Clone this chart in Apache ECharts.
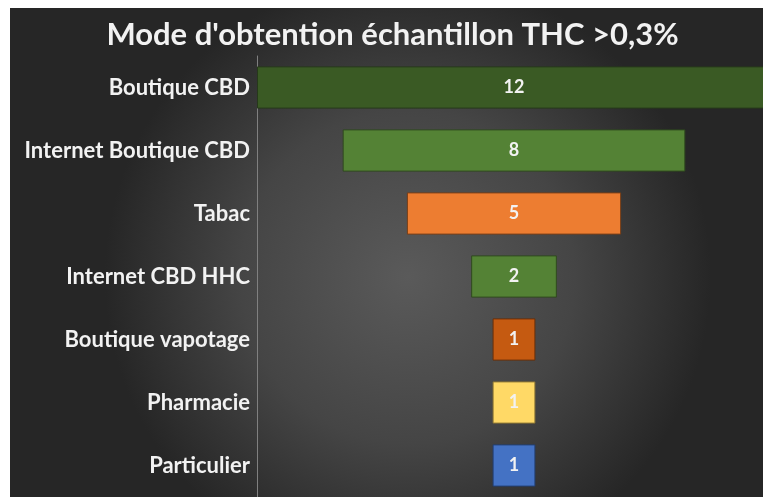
<!DOCTYPE html>
<html>
<head>
<meta charset="utf-8">
<script src="https://cdn.jsdelivr.net/npm/echarts@6/dist/echarts.min.js"></script>
<style>
  html, body { margin: 0; padding: 0; background: #ffffff; overflow: hidden; }
  #chart { position: absolute; left: 10px; top: 8px; width: 765px; height: 489px; }
</style>
</head>
<body>
<div id="chart"></div>
<script>
// data
var categories = ['Boutique CBD', 'Internet Boutique CBD', 'Tabac', 'Internet CBD HHC', 'Boutique vapotage', 'Pharmacie', 'Particulier']
var counts = [12, 8, 5, 2, 1, 1, 1]
var barColors = ['#3a5a24', '#548235', '#ed7d31', '#548235', '#c55a11', '#ffd966', '#4472c4']
var borderColors = ['#26391a', '#2f4a1e', '#7a3f17', '#2f4a1e', '#6b2f08', '#8a7433', '#223f72']

var maxCount = Math.max.apply(null, counts)
// invisible offset so each bar is centred (funnel look)
var offsets = counts.map(function (v) { return (maxCount - v) / 2 })

var chart = echarts.init(document.getElementById('chart'))
chart.setOption({
  backgroundColor: {
    type: 'radial',
    x: 0.52,
    y: 0.55,
    r: 0.62,
    colorStops: [
      { offset: 0, color: '#5a5a5a' },
      { offset: 0.55, color: '#454545' },
      { offset: 1, color: '#262626' }
    ]
  },
  title: {
    text: "Mode d'obtention échantillon THC >0,3%",
    left: 'center',
    top: 6,
    textStyle: {
      color: '#f2f2f2',
      fontFamily: 'Lato',
      fontWeight: 'bold',
      fontSize: 31
    }
  },
  grid: {
    left: 247,
    top: 48,
    width: 514,
    height: 443
  },
  xAxis: {
    type: 'value',
    min: 0,
    max: maxCount,
    show: false
  },
  yAxis: {
    type: 'category',
    inverse: true,
    data: categories,
    axisLine: { show: true, lineStyle: { color: '#808080', width: 1 } },
    axisTick: { show: false },
    axisLabel: {
      color: '#f2f2f2',
      fontFamily: 'Lato',
      fontWeight: 'bold',
      fontSize: 22,
      margin: 7
    }
  },
  series: [
    {
      type: 'bar',
      stack: 'funnel',
      silent: true,
      itemStyle: { color: 'transparent' },
      data: offsets,
      barCategoryGap: '33%'
    },
    {
      type: 'bar',
      stack: 'funnel',
      barCategoryGap: '33%',
      data: counts.map(function (v, i) {
        return {
          value: v,
          itemStyle: { color: barColors[i], borderColor: borderColors[i], borderWidth: 1 }
        }
      }),
      label: {
        show: true,
        position: 'inside',
        color: '#f2f2f2',
        fontFamily: 'Lato',
        fontWeight: 'bold',
        fontSize: 18
      }
    }
  ]
})
</script>
</body>
</html>
